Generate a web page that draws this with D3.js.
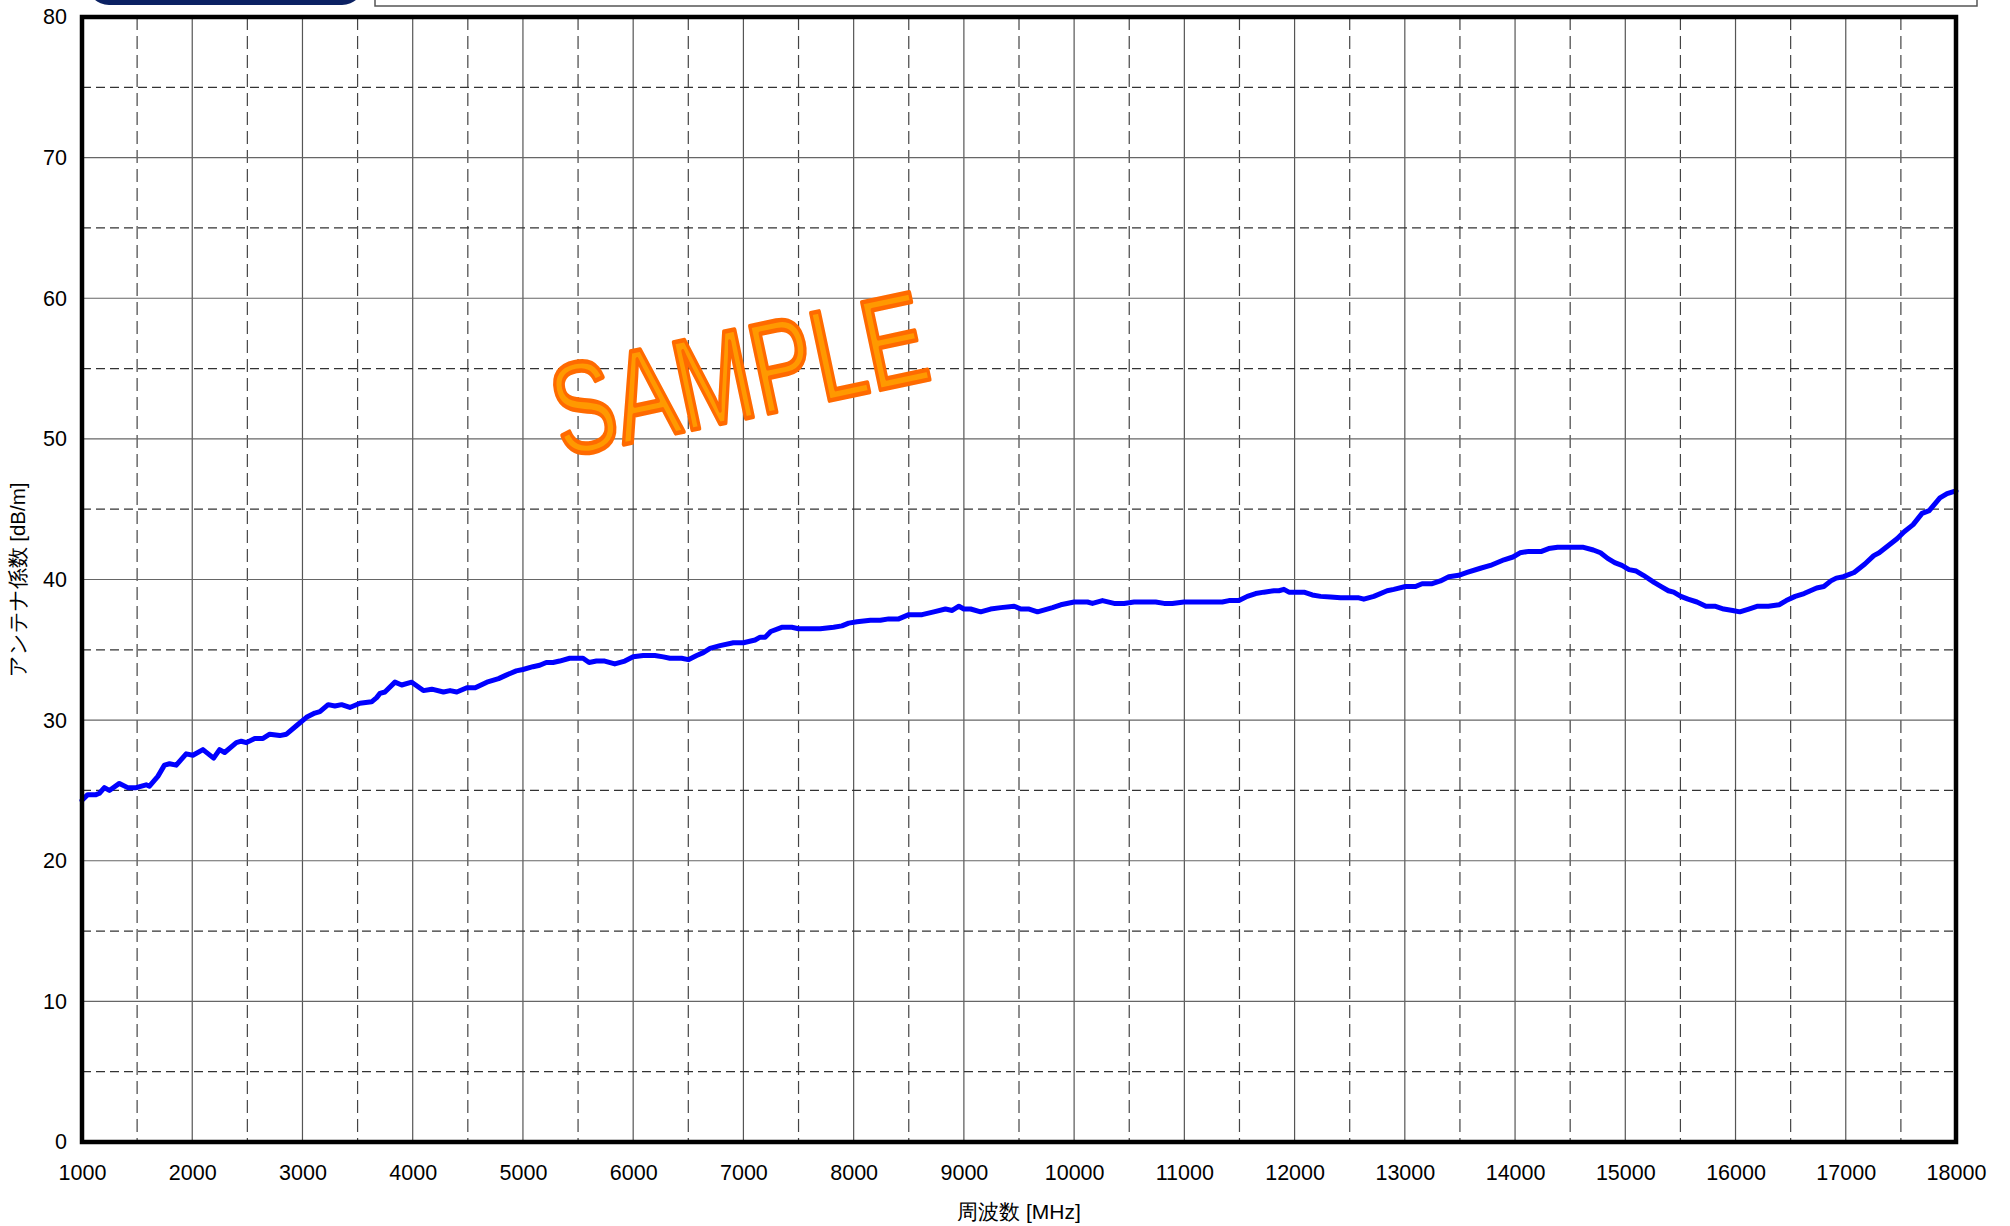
<!DOCTYPE html>
<html>
<head>
<meta charset="utf-8">
<script src="https://cdn.jsdelivr.net/npm/d3@7"></script>
<style>
  body { margin: 0; background: #fff; }
  svg { display: block; }
  text { font-family: "Liberation Sans", Arial, sans-serif; }
</style>
</head>
<body>
<script>
// frequency [MHz] and antenna factor [dB/m]
var freq = [1000, 1052, 1127, 1158, 1203, 1248, 1339, 1415, 1491, 1582, 1612, 1688, 1748, 1794, 1855, 1945,
  2006, 2097, 2194, 2248, 2294, 2400, 2445, 2491, 2567, 2642, 2703, 2794, 2855, 2945,
  3036, 3112, 3158, 3233, 3294, 3355, 3430, 3521, 3627, 3673, 3703, 3748, 3839, 3900, 3991,
  4097, 4173, 4279, 4339, 4400, 4491, 4567, 4673, 4779, 4848, 4939,
  5000, 5091, 5152, 5212, 5273, 5333, 5424, 5545, 5600, 5667, 5742, 5833, 5924,
  6000, 6091, 6197, 6273, 6333, 6439, 6500, 6576, 6636, 6697, 6788, 6909,
  7000, 7106, 7152, 7197, 7248, 7348, 7439, 7500, 7606, 7697, 7818, 7894, 7955,
  8030, 8152, 8242, 8318, 8409, 8500, 8621, 8727, 8833, 8894, 8955,
  9000, 9061, 9152, 9242, 9335, 9456, 9517, 9592, 9668, 9804, 9879,
  10000, 10121, 10166, 10257, 10363, 10453, 10544, 10634, 10740, 10816, 10891, 10997,
  11057, 11208, 11344, 11405, 11495, 11571, 11647, 11722, 11813, 11858, 11903, 11949,
  12085, 12160, 12236, 12326, 12417, 12492, 12583, 12628, 12719, 12840, 12900,
  13006, 13097, 13157, 13248, 13323, 13399, 13489, 13565, 13686, 13776, 13900, 13981,
  14045, 14126, 14240, 14305, 14386, 14499, 14613, 14710, 14775, 14840, 14904, 14969,
  15034, 15099, 15164, 15261, 15326, 15391, 15439, 15504, 15569, 15650, 15731, 15812, 15893, 15974,
  16039, 16120, 16201, 16298, 16395, 16460, 16541, 16622, 16736, 16801, 16865, 16914, 16979,
  17076, 17173, 17254, 17303, 17384, 17465, 17530, 17611, 17692, 17757, 17854, 17919, 18000];
var factor = [24.3, 24.7, 24.7, 24.8, 25.2, 25.0, 25.5, 25.2, 25.2, 25.4, 25.3, 26.0, 26.8, 26.9, 26.8, 27.6,
  27.5, 27.9, 27.3, 27.9, 27.7, 28.4, 28.5, 28.4, 28.7, 28.7, 29.0, 28.9, 29.0, 29.6,
  30.2, 30.5, 30.6, 31.1, 31.0, 31.1, 30.9, 31.2, 31.3, 31.6, 31.9, 32.0, 32.7, 32.5, 32.7,
  32.1, 32.2, 32.0, 32.1, 32.0, 32.3, 32.3, 32.7, 32.95, 33.2, 33.5,
  33.6, 33.8, 33.9, 34.1, 34.1, 34.2, 34.4, 34.4, 34.1, 34.2, 34.2, 34.0, 34.2,
  34.5, 34.6, 34.6, 34.5, 34.4, 34.4, 34.3, 34.6, 34.8, 35.1, 35.3, 35.5,
  35.5, 35.7, 35.9, 35.9, 36.3, 36.6, 36.6, 36.5, 36.5, 36.5, 36.6, 36.7, 36.9,
  37.0, 37.1, 37.1, 37.2, 37.2, 37.5, 37.5, 37.7, 37.9, 37.8, 38.1,
  37.9, 37.9, 37.7, 37.9, 38.0, 38.1, 37.9, 37.9, 37.7, 38.0, 38.2,
  38.4, 38.4, 38.3, 38.5, 38.3, 38.3, 38.4, 38.4, 38.4, 38.3, 38.3, 38.4,
  38.4, 38.4, 38.4, 38.5, 38.5, 38.8, 39.0, 39.1, 39.2, 39.2, 39.3, 39.1,
  39.1, 38.9, 38.8, 38.75, 38.7, 38.7, 38.7, 38.6, 38.8, 39.2, 39.3,
  39.5, 39.5, 39.7, 39.7, 39.9, 40.2, 40.3, 40.5, 40.8, 41.0, 41.4, 41.6,
  41.9, 42.0, 42.0, 42.2, 42.3, 42.3, 42.3, 42.1, 41.9, 41.5, 41.2, 41.0,
  40.7, 40.6, 40.3, 39.8, 39.5, 39.2, 39.1, 38.8, 38.6, 38.4, 38.1, 38.1, 37.9, 37.8,
  37.7, 37.9, 38.1, 38.1, 38.2, 38.5, 38.8, 39.0, 39.4, 39.5, 39.9, 40.1, 40.2,
  40.5, 41.1, 41.7, 41.9, 42.4, 42.9, 43.4, 43.9, 44.7, 44.9, 45.8, 46.1, 46.3];

var xTicks = d3.range(1000, 18001, 1000);
var xHalf = d3.range(1500, 18000, 1000);
var yTicks = d3.range(0, 81, 10);
var yHalf = d3.range(5, 80, 10);

var xTitle = "周波数 [MHz]";
var yTitle = "アンテナ係数 [dB/m]";

function drawChart() {
    var W = 2010, H = 1226;
    var mLeft = 82, mRight = 1956, mTop = 17, mBottom = 1142;

    var svg = d3.select("body").append("svg")
        .attr("width", W)
        .attr("height", H);

    // bits of the page header cut off at the top
    svg.append("rect")
        .attr("x", 87).attr("y", -40)
        .attr("width", 277).attr("height", 45)
        .attr("rx", 22)
        .attr("fill", "#0b2163");
    svg.append("rect")
        .attr("x", 375).attr("y", -10)
        .attr("width", 1602).attr("height", 16)
        .attr("fill", "none")
        .attr("stroke", "#555")
        .attr("stroke-width", 1.5);

    var x = d3.scaleLinear().domain([1000, 18000]).range([mLeft, mRight]);
    var y = d3.scaleLinear().domain([0, 80]).range([mBottom, mTop]);

    var grid = svg.append("g");

    grid.selectAll(".vs").data(xTicks).enter().append("line")
        .attr("x1", d => x(d)).attr("x2", d => x(d))
        .attr("y1", mTop).attr("y2", mBottom)
        .attr("stroke", "#555").attr("stroke-width", 1.2);

    grid.selectAll(".vd").data(xHalf).enter().append("line")
        .attr("x1", d => x(d)).attr("x2", d => x(d))
        .attr("y1", mTop).attr("y2", mBottom)
        .attr("stroke", "#444").attr("stroke-width", 1.2)
        .attr("stroke-dasharray", "13,6");

    grid.selectAll(".hs").data(yTicks).enter().append("line")
        .attr("x1", mLeft).attr("x2", mRight)
        .attr("y1", d => y(d)).attr("y2", d => y(d))
        .attr("stroke", "#666").attr("stroke-width", 1.2);

    grid.selectAll(".hd").data(yHalf).enter().append("line")
        .attr("x1", mLeft).attr("x2", mRight)
        .attr("y1", d => y(d)).attr("y2", d => y(d))
        .attr("stroke", "#333").attr("stroke-width", 1.2)
        .attr("stroke-dasharray", "9,5");

    // watermark
    svg.append("text")
        .attr("transform", "translate(748,418) rotate(-12) scale(0.72,1)")
        .attr("text-anchor", "middle")
        .attr("font-size", 130)
        .attr("fill", "#ff9900")
        .attr("stroke", "#ff6a00")
        .attr("stroke-width", 4.5)
        .attr("stroke-linejoin", "round")
        .text("SAMPLE");

    // data line
    var line = d3.line()
        .x((d, i) => x(freq[i]))
        .y(d => y(d));

    svg.append("path")
        .datum(factor)
        .attr("d", line)
        .attr("fill", "none")
        .attr("stroke", "#0000ff")
        .attr("stroke-width", 5)
        .attr("stroke-linejoin", "round")
        .attr("stroke-linecap", "round");

    // frame
    svg.append("rect")
        .attr("x", mLeft).attr("y", mTop)
        .attr("width", mRight - mLeft).attr("height", mBottom - mTop)
        .attr("fill", "none")
        .attr("stroke", "#000")
        .attr("stroke-width", 4.5);

    // axes (labels only)
    var xAxis = svg.append("g")
        .attr("transform", "translate(0," + mBottom + ")")
        .call(d3.axisBottom(x).tickValues(xTicks).tickSize(0).tickPadding(23).tickFormat(d3.format("d")));
    var yAxis = svg.append("g")
        .attr("transform", "translate(" + mLeft + ",0)")
        .call(d3.axisLeft(y).tickValues(yTicks).tickSize(0).tickPadding(15).tickFormat(d3.format("d")));

    [xAxis, yAxis].forEach(function(g) {
        g.select(".domain").remove();
        g.selectAll("text")
            .attr("font-family", "'Liberation Sans', Arial, sans-serif")
            .attr("font-size", 21.5)
            .attr("fill", "#000");
    });

    svg.append("text")
        .attr("x", 1019).attr("y", 1219)
        .attr("text-anchor", "middle")
        .attr("font-size", 21)
        .attr("font-family", "'Liberation Sans', 'Noto Sans CJK JP', sans-serif")
        .text(xTitle);

    svg.append("text")
        .attr("transform", "translate(25,580) rotate(-90)")
        .attr("text-anchor", "middle")
        .attr("font-size", 20.5)
        .attr("font-family", "'Liberation Sans', 'Noto Sans CJK JP', sans-serif")
        .text(yTitle);
}

drawChart();
</script>
</body>
</html>
